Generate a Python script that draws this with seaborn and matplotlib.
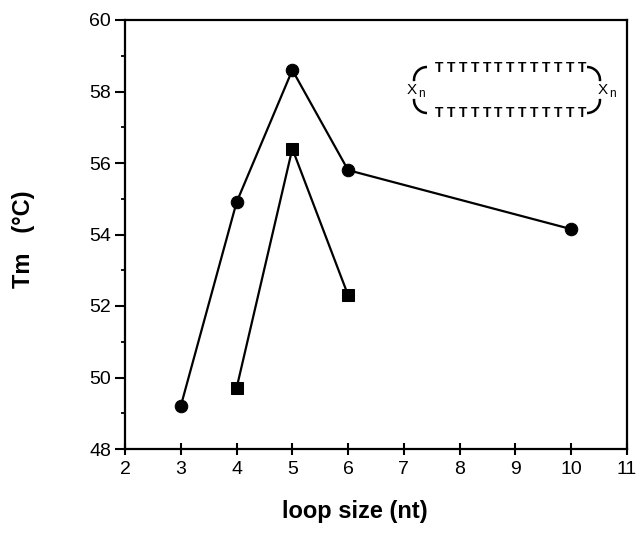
"""Tm versus loop size chart."""
import pandas as pd
import seaborn as sns
import matplotlib.pyplot as plt
from matplotlib.patches import Arc
from matplotlib.transforms import IdentityTransform

# data
loop_circle = [3, 4, 5, 6, 10]
tm_circle = [49.2, 54.9, 58.6, 55.8, 54.15]
loop_square = [4, 5, 6]
tm_square = [49.7, 56.4, 52.3]

x_ticks = [2, 3, 4, 5, 6, 7, 8, 9, 10, 11]
y_ticks = [48, 50, 52, 54, 56, 58, 60]

sns.set_theme(style='ticks')
plt.rcParams['font.family'] = ['Liberation Sans', 'DejaVu Sans']

W, H = 638, 538
fig = plt.figure(figsize=(W / 100, H / 100), dpi=100)
# axes box (pixels)
L, R, T, B = 125, 627, 20, 449
ax = fig.add_axes([L / W, 1 - B / H, (R - L) / W, (B - T) / H])

df_c = pd.DataFrame({'loop': loop_circle, 'tm': tm_circle})
df_s = pd.DataFrame({'loop': loop_square, 'tm': tm_square})

sns.lineplot(data=df_c, x='loop', y='tm', ax=ax, color='black', linewidth=1.6,
             marker='o', markersize=9, markeredgecolor='black')
sns.lineplot(data=df_s, x='loop', y='tm', ax=ax, color='black', linewidth=1.6,
             marker='s', markersize=8, markeredgecolor='black')

ax.set_xlim(2, 11)
ax.set_ylim(48, 60)
ax.set_xticks(x_ticks)
ax.set_yticks(y_ticks)
ax.set_yticks(range(49, 60, 2), minor=True)
ax.tick_params(axis='both', which='major', labelsize=14, color='black',
               width=1.5, labelcolor='black')
ax.tick_params(axis='x', which='major', direction='inout', length=8, pad=5)
ax.tick_params(axis='y', which='major', direction='out', length=7, pad=3)
ax.tick_params(axis='y', which='minor', direction='out', length=3,
               width=1.3, color='black')
for sp in ax.spines.values():
    sp.set_linewidth(1.6)
    sp.set_color('black')

ax.set_xlabel('loop size (nt)', fontsize=17, fontweight='bold', color='black')
ax.set_ylabel('Tm   (°C)', fontsize=17, fontweight='bold', color='black')
ax.xaxis.set_label_coords(0.458, -0.12)
ax.yaxis.set_label_coords(-0.18, 0.49)

# hairpin sketch in the upper right (pixel positions from the reference)
def px(x, y):
    return x, H - y

ident = IdentityTransform()
for i in range(13):
    for yy in (68, 113):
        fig.text(*px(439 + i * 11.9, yy), 'T', transform=ident, fontsize=10,
                 fontweight='bold', ha='center', va='center', color='black')
for cx, cy, t1, t2 in [(427, 80, 90, 185), (427, 100, 175, 270),
                       (587, 80, -5, 90), (587, 100, 270, 365)]:
    fig.add_artist(Arc(px(cx, cy), 26, 26, theta1=t1, theta2=t2,
                       transform=ident, color='black', lw=1.8))
for xx in (412, 603):
    fig.text(*px(xx, 90), 'X', transform=ident, fontsize=11,
             ha='center', va='center', color='black')
    fig.text(*px(xx + 9, 94), 'n', transform=ident, fontsize=8.5,
             ha='center', va='center', color='black')

fig.savefig('out.png', dpi=100)
